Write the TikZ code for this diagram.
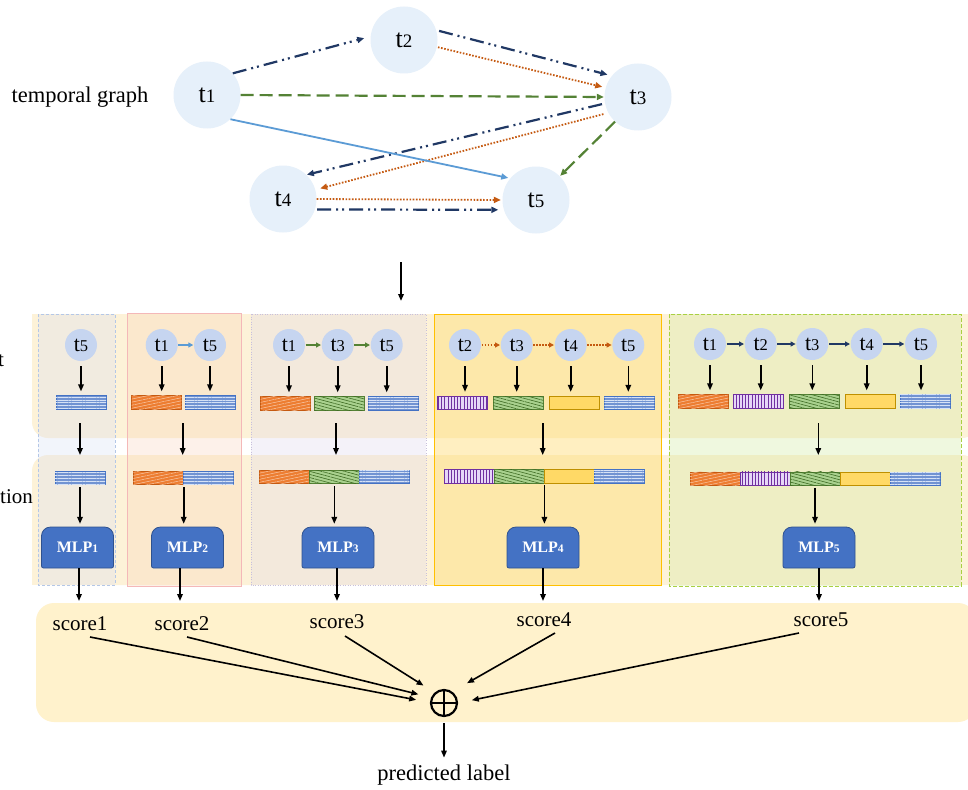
\documentclass[tikz,border=0pt]{standalone}
\usepackage{fontspec}
\setmainfont{Liberation Serif}
\usetikzlibrary{arrows.meta,patterns.meta}
\definecolor{navy}{HTML}{203864}
\definecolor{orng}{HTML}{C55A11}
\definecolor{grn}{HTML}{548235}
\definecolor{lblue}{HTML}{5B9BD5}
\definecolor{tgfill}{HTML}{E6F0FA}
\definecolor{cfill}{HTML}{C6D5F0}
\definecolor{bandA}{HTML}{FDF2D8}
\definecolor{bandS}{HTML}{FFF2CC}
\definecolor{mlpf}{HTML}{4472C4}
\definecolor{mlpd}{HTML}{2F528F}
\definecolor{ebf}{HTML}{7193D2}
\definecolor{ebd}{HTML}{4472C4}
\definecolor{ebl}{HTML}{D6E2F6}
\definecolor{eof}{HTML}{ED7D31}
\definecolor{eod}{HTML}{C55A11}
\definecolor{eol}{HTML}{F8C9A8}
\definecolor{egf}{HTML}{A9D18E}
\definecolor{egd}{HTML}{548235}
\definecolor{egl}{HTML}{3E6B23}
\definecolor{epf}{HTML}{E6D6F7}
\definecolor{epd}{HTML}{7030A0}
\definecolor{eyf}{HTML}{FFD966}
\definecolor{eyd}{HTML}{BF9000}
\definecolor{cAf}{HTML}{D7DEF5}
\definecolor{cAd}{HTML}{B4C7E7}
\definecolor{cBf}{HTML}{F8CBAD}
\definecolor{cBd}{HTML}{F4B8B8}
\definecolor{cCf}{HTML}{D7CFEB}
\definecolor{cCd}{HTML}{C8C0DC}
\definecolor{cDf}{HTML}{FFD966}
\definecolor{cDd}{HTML}{FFC000}
\definecolor{cEf}{HTML}{CDE898}
\definecolor{cEd}{HTML}{A9D042}
\newcommand\tbig[1]{{\fontsize{26}{26}\selectfont t\fontsize{19}{19}\selectfont #1}}
\newcommand\tsm[1]{{\fontsize{22}{22}\selectfont t\fontsize{16.5}{16.5}\selectfont #1}}
\newcommand\mlpbox[3]{%
  \path[fill=mlpf,draw=mlpd,line width=0.8pt] (#2-36,547) [rounded corners=9pt] -- (#2-36,527) -- (#2+36,527) -- (#2+36,547) [rounded corners=2pt] -- (#2+36,568) -- (#2-36,568) -- cycle;
  \node[mlpt] (#1) at (#2,547.5) {MLP{\fontsize{11.5}{11.5}\selectfont #3}};}
\begin{document}
\begin{tikzpicture}[x=1pt,y=-1pt,
  tg/.style={circle,fill=tgfill,minimum size=67pt,inner sep=0pt},
  sc/.style={circle,fill=cfill,minimum size=32pt,inner sep=0pt},
  lab/.style={font=\fontsize{21}{21}\selectfont,inner sep=0pt},
  labb/.style={font=\fontsize{22.5}{22.5}\selectfont,inner sep=0pt},
  mlpt/.style={text=white,font=\bfseries\fontsize{16}{16}\selectfont,minimum width=72pt,minimum height=41pt,inner sep=0pt},
  tip/.style={-{Triangle[length=7pt,width=6pt]}},
  navyE/.style={tip,draw=navy,line width=2.2pt,dash pattern=on 14pt off 5pt on 2pt off 4pt on 2pt off 5pt},
  orE/.style={tip,draw=orng,line width=1.8pt,dash pattern=on 1.6pt off 1.6pt},
  grE/.style={tip,draw=grn,line width=2.2pt,dash pattern=on 13pt off 6pt},
  lbE/.style={tip,draw=lblue,line width=1.8pt},
  carr/.style={line width=1.6pt,-{Triangle[length=5pt,width=5pt]},shorten <=0.5pt,shorten >=0.5pt},
  blk/.style={line width=1.6pt,-{Triangle[length=7pt,width=5.5pt]}},
  emb/.style={minimum width=50pt,minimum height=13.5pt,inner sep=0pt,line width=0.8pt},
  eB/.style={emb,fill=ebf,draw=ebd,postaction={pattern={Lines[angle=0,distance=2.8pt,line width=0.55pt]},pattern color=ebl}},
  eO/.style={emb,fill=eof,draw=eod,postaction={pattern={Lines[angle=12,distance=3pt,line width=0.5pt]},pattern color=eol}},
  eG/.style={emb,fill=egf,draw=egd,postaction={pattern={Lines[angle=-15,distance=3pt,line width=0.6pt]},pattern color=egl}},
  eP/.style={emb,fill=epf,draw=epd,postaction={pattern={Lines[angle=90,distance=3.2pt,line width=0.8pt]},pattern color=epd}},
  eY/.style={emb,fill=eyf,draw=eyd}
]
\clip (0,0) rectangle (968,789);
\fill[white] (0,0) rectangle (968,789);
% background bands
\fill[bandA,rounded corners=16pt] (32,314) rectangle (978,438);
\fill[bandA] (32,314) rectangle (978,380);
\fill[bandA,rounded corners=16pt] (32,455) rectangle (978,585);
\fill[bandA] (32,520) rectangle (978,585);
\fill[bandS,rounded corners=18pt] (36,603) rectangle (976,722);
% column panels
\filldraw[fill=cAf,fill opacity=0.3,draw=cAd,line width=0.8pt,dash pattern=on 3pt off 2pt] (38,314) rectangle (115,585);
\filldraw[fill=cBf,fill opacity=0.25,draw=cBd,line width=0.8pt] (127,313) rectangle (241,586);
\filldraw[fill=cCf,fill opacity=0.25,draw=cCd,line width=0.8pt,dash pattern=on 1pt off 1.5pt] (251,314) rectangle (426,585);
\filldraw[fill=cDf,fill opacity=0.4,draw=cDd,line width=0.8pt] (434,314) rectangle (661,585);
\filldraw[fill=cEf,fill opacity=0.3,draw=cEd,line width=1pt,dash pattern=on 4pt off 2pt] (669,314) rectangle (961,586);
% left cut labels
\node[lab,anchor=base west] (lt) at (-2,366) {t};
\node[lab,anchor=base west] (ltion) at (0,503) {tion};
% temporal graph
\node[labb] (tgl) at (80,97) {temporal graph};
\node[tg] (t1) at (207,95) {\tbig{1}};
\node[tg] (t2) at (404,40) {\tbig{2}};
\node[tg] (t3) at (638,97) {\tbig{3}};
\node[tg] (t4) at (283,199) {\tbig{4}};
\node[tg] (t5) at (536,200) {\tbig{5}};
\draw[navyE,shorten >=6.5pt] (t1.40) -- (t2.174);
\draw[navyE,shorten <=3pt,shorten >=4.5pt] (t2.17) -- (t3.141);
\draw[orE,shorten <=1pt,shorten >=3.5pt] (t2.348) -- (t3.164);
\draw[grE,shorten >=0.5pt] (t1.0) -- (t3.180);
\draw[navyE,shorten <=3pt,shorten >=0.5pt] (t3.191) -- (t4.46);
\draw[orE,shorten <=5pt,shorten >=5pt] (t3.208) -- (t4.16);
\draw[grE,shorten >=0.5pt] (t3.227) -- (t5.45);
\draw[lbE,shorten >=2pt] (t1.314) -- (t5.140);
\draw[orE,shorten >=1.5pt] (t4.0) -- (t5.180);
\draw[navyE,shorten <=2pt,shorten >=5.5pt] (t4.342) -- (t5.197);
% main down arrow
\coordinate (ga) at (401,262);
\coordinate (gb) at (401,301);
\draw[blk,line width=1.8pt] (ga) -- (gb);
% ---------- column 1
\node[sc] (a5) at (81,345) {\tsm{5}};
\node[eB] (ae5) at (81,402.5) {};
\draw[blk,shorten <=5pt,shorten >=4pt] (a5.south) -- (a5.south |- ae5.north);
\coordinate (ar1) at (80,423); \coordinate (ar2) at (80,455);
\draw[blk] (ar1) -- (ar2);
\node[eB] (ac5) at (80,478) {};
\mlpbox{m1}{77.5}{1}
\draw[blk,shorten <=2pt,shorten >=3pt] (ac5.south) -- (ac5.south |- m1.north);
% ---------- column 2
\node[sc] (b1) at (161.7,345) {\tsm{1}};
\node[sc] (b5) at (210,345) {\tsm{5}};
\draw[carr,draw=lblue] (b1) -- (b5);
\node[eO] (be1) at (156.7,402.5) {};
\node[eB] (be5) at (210,402.5) {};
\draw[blk,shorten <=5pt,shorten >=4pt] (b1.south) -- (b1.south |- be1.north);
\draw[blk,shorten <=5pt,shorten >=4pt] (b5.south) -- (b5.south |- be5.north);
\coordinate (br1) at (182.7,423); \coordinate (br2) at (182.7,455);
\draw[blk] (br1) -- (br2);
\node[eO] (bc1) at (158.3,478) {};
\node[eB] (bc2) at (208.3,478) {};
\mlpbox{m2}{187.5}{2}
\draw[blk,shorten <=2pt,shorten >=3pt] (bc1.south east) -- (bc1.south east |- m2.north);
% ---------- column 3
\node[sc] (c1) at (289,345) {\tsm{1}};
\node[sc] (c3) at (337.7,345) {\tsm{3}};
\node[sc] (c5) at (386.7,345) {\tsm{5}};
\draw[carr,draw=grn] (c1) -- (c3);
\draw[carr,draw=grn] (c3) -- (c5);
\node[eO] (ce1) at (285.7,403.5) {};
\node[eG] (ce3) at (339.3,403.5) {};
\node[eB] (ce5) at (393.3,403.5) {};
\draw[blk,shorten <=5pt,shorten >=4pt] (c1.south) -- (c1.south |- ce1.north);
\draw[blk,shorten <=5pt,shorten >=4pt] (c3.south) -- (c3.south |- ce3.north);
\draw[blk,shorten <=5pt,shorten >=4pt] (c5.south) -- (c5.south |- ce5.north);
\coordinate (cr1) at (336,423); \coordinate (cr2) at (336,455);
\draw[blk] (cr1) -- (cr2);
\node[eO] (cc1) at (284.3,477) {};
\node[eG] (cc2) at (334.3,477) {};
\node[eB] (cc3) at (384.3,477) {};
\mlpbox{m3}{338}{3}
\draw[blk,shorten <=2pt,shorten >=3pt] (cc2.south) -- (cc2.south |- m3.north);
% ---------- column 4
\node[sc] (d2) at (465,345) {\tsm{2}};
\node[sc] (d3) at (516.7,345) {\tsm{3}};
\node[sc] (d4) at (570.7,345) {\tsm{4}};
\node[sc] (d5) at (628.3,345) {\tsm{5}};
\draw[carr,draw=orng,dash pattern=on 1.5pt off 1.5pt] (d2) -- (d3);
\draw[carr,draw=orng,dash pattern=on 1.5pt off 1.5pt] (d3) -- (d4);
\draw[carr,draw=orng,dash pattern=on 1.5pt off 1.5pt] (d4) -- (d5);
\node[eP] (de2) at (462.3,403) {};
\node[eG] (de3) at (518.3,403) {};
\node[eY] (de4) at (574.3,403) {};
\node[eB] (de5) at (629.3,403) {};
\draw[blk,shorten <=5pt,shorten >=4pt] (d2.south) -- (d2.south |- de2.north);
\draw[blk,shorten <=5pt,shorten >=4pt] (d3.south) -- (d3.south |- de3.north);
\draw[blk,shorten <=5pt,shorten >=4pt] (d4.south) -- (d4.south |- de4.north);
\draw[blk,shorten <=5pt,shorten >=4pt] (d5.south) -- (d5.south |- de5.north);
\coordinate (dr1) at (542.7,423); \coordinate (dr2) at (542.7,455);
\draw[blk] (dr1) -- (dr2);
\node[eP] (dc1) at (469,476.3) {};
\node[eG] (dc2) at (519,476.3) {};
\node[eY] (dc3) at (569,476.3) {};
\node[eB] (dc4) at (619,476.3) {};
\mlpbox{m4}{543}{4}
\draw[blk,shorten <=2pt,shorten >=3pt] (dc2.south east) -- (dc2.south east |- m4.north);
% ---------- column 5
\node[sc] (e1) at (710,344) {\tsm{1}};
\node[sc] (e2) at (760.7,344) {\tsm{2}};
\node[sc] (e3) at (812.3,344) {\tsm{3}};
\node[sc] (e4) at (866.7,344) {\tsm{4}};
\node[sc] (e5) at (921,344) {\tsm{5}};
\draw[carr,draw=navy] (e1) -- (e2);
\draw[carr,draw=navy] (e2) -- (e3);
\draw[carr,draw=navy] (e3) -- (e4);
\draw[carr,draw=navy] (e4) -- (e5);
\node[eO] (ee1) at (703.3,401.5) {};
\node[eP] (ee2) at (758.3,401.5) {};
\node[eG] (ee3) at (814.3,401.5) {};
\node[eY] (ee4) at (870,401.5) {};
\node[eB] (ee5) at (925,401.5) {};
\draw[blk,shorten <=5pt,shorten >=4pt] (e1.south) -- (e1.south |- ee1.north);
\draw[blk,shorten <=5pt,shorten >=4pt] (e2.south) -- (e2.south |- ee2.north);
\draw[blk,shorten <=5pt,shorten >=4pt] (e3.south) -- (e3.south |- ee3.north);
\draw[blk,shorten <=5pt,shorten >=4pt] (e4.south) -- (e4.south |- ee4.north);
\draw[blk,shorten <=5pt,shorten >=4pt] (e5.south) -- (e5.south |- ee5.north);
\coordinate (er1) at (818.3,423); \coordinate (er2) at (818.3,455);
\draw[blk] (er1) -- (er2);
\node[eO] (ec1) at (715,478.7) {};
\node[eP] (ec2) at (765,478.7) {};
\node[eG] (ec3) at (815,478.7) {};
\node[eY] (ec4) at (865,478.7) {};
\node[eB] (ec5) at (915,478.7) {};
\mlpbox{m5}{819}{5}
\draw[blk,shorten <=2pt,shorten >=3pt] (ec3.south) -- (ec3.south |- m5.north);
% ---------- scores
\node[lab] (s1) at (80,624) {score1};
\node[lab] (s2) at (182,624) {score2};
\node[lab] (s3) at (337,622) {score3};
\node[lab] (s4) at (544,620) {score4};
\node[lab] (s5) at (821,620) {score5};
\coordinate (m1e) at (79,601);
\coordinate (m2e) at (180,601);
\coordinate (m3e) at (337,601);
\coordinate (m4e) at (543,601);
\coordinate (m5e) at (819,601);
\draw[blk] (m1.south -| m1e) -- (m1e);
\draw[blk] (m2.south -| m2e) -- (m2e);
\draw[blk] (m3.south -| m3e) -- (m3e);
\draw[blk] (m4.south -| m4e) -- (m4e);
\draw[blk] (m5.south -| m5e) -- (m5e);
% oplus
\node[circle,draw,line width=2.2pt,minimum size=26pt,inner sep=0pt] (op) at (444,703) {};
\draw[line width=2.2pt,shorten <=1pt,shorten >=1pt] (op.north) -- (op.south);
\draw[line width=2.2pt,shorten <=1pt,shorten >=1pt] (op.west) -- (op.east);
\coordinate (s1a) at (90,637);
\coordinate (s2a) at (187,637);
\coordinate (s3a) at (345,636);
\coordinate (s4a) at (555,633);
\coordinate (s5a) at (799,633);
\draw[blk,shorten >=14pt] (s1a) -- (op.178);
\draw[blk,shorten >=13pt] (s2a) -- (op.157);
\draw[blk,shorten >=13pt] (s3a) -- (op.132);
\draw[blk,shorten >=17pt] (s4a) -- (op.54);
\draw[blk,shorten >=14pt] (s5a) -- (op.0);
\node[labb] (pl) at (444,775) {predicted label};
\draw[blk,line width=1.5pt,shorten <=6pt,shorten >=7pt] (op.south) -- (pl.north);
\end{tikzpicture}
\end{document}
